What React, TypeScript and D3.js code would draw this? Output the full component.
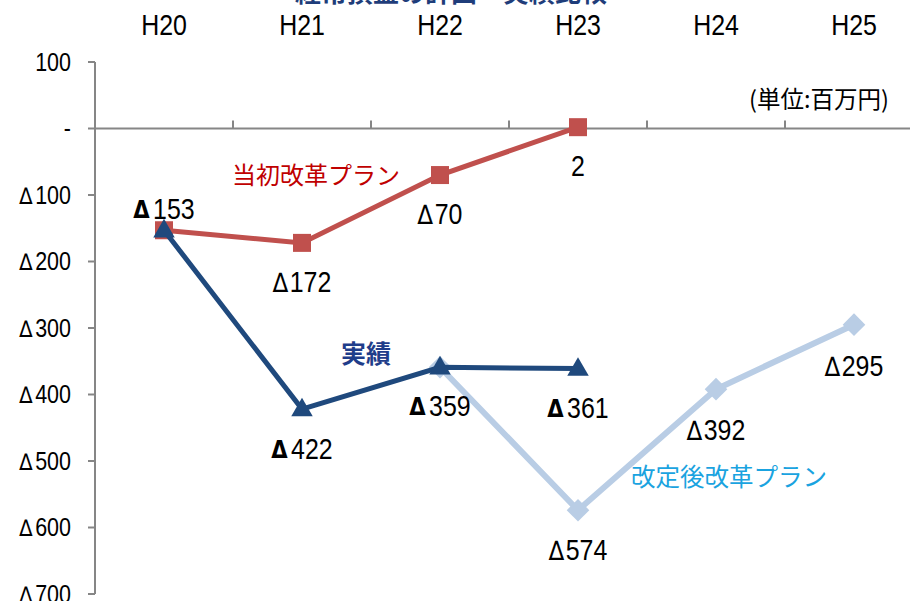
import React from "react";
import * as d3 from "d3";

const years = ["H20", "H21", "H22", "H23", "H24", "H25"];
const initialPlan = [-153, -172, -70, 2, null, null];
const actual = [-153, -422, -359, -361, null, null];
const revisedPlan = [null, null, -359, -574, -392, -295];
const yTicks = [100, 0, -100, -200, -300, -400, -500, -600, -700];

const W = 910;
const H = 601;
const FONT = '"Liberation Sans", Arial, sans-serif';
const DELTA_FONT = '"DejaVu Sans", sans-serif';
const CJK = '"Noto Sans CJK JP", "Noto Sans", sans-serif';
const SX = 0.86; // condensed look for Latin text

type TxtProps = {
  x: number;
  y: number;
  size: number;
  anchor?: "start" | "middle" | "end";
  children: React.ReactNode;
};

// Horizontally condensed text, positioned at (x, y) with a central baseline
function Txt({ x, y, size, anchor = "middle", children }: TxtProps) {
  return (
    <text
      transform={`translate(${x},${y}) scale(${SX},1)`}
      textAnchor={anchor}
      dominantBaseline="central"
      fontSize={size}
      fontFamily={FONT}
      fill="#000"
    >
      {children}
    </text>
  );
}

const deltaNumber = (v: number, bold: boolean, size: number, gap: number) =>
  v < 0 ? (
    <>
      <tspan fontFamily={DELTA_FONT} fontWeight={bold ? "bold" : "normal"} fontSize={bold ? size * 0.85 : size * 0.92}>
        {bold ? "Δ" : "∆"}
      </tspan>
      <tspan dx={gap}>{Math.abs(v)}</tspan>
    </>
  ) : v === 0 ? (
    "-"
  ) : (
    `${v}`
  );

export default function App() {
  const x = d3.scaleBand<string>().domain(years).range([95, 95 + 138 * 6]).padding(0);
  const y = d3.scaleLinear().domain([-700, 100]).range([594, 62]);
  const cx = (i: number) => (x(years[i]) as number) + x.bandwidth() / 2;

  const pts = (arr: (number | null)[]) =>
    arr
      .map((v, i) => (v === null ? null : ([cx(i), y(v)] as [number, number])))
      .filter(Boolean) as [number, number][];

  const line = d3.line<[number, number]>();

  const redPts = pts(initialPlan);
  const navyPts = pts(actual);
  const lightPts = pts(revisedPlan);

  const red = "#C0504D";
  const navy = "#1F497D";
  const light = "#B9CDE5";

  const label = (v: number, i: number, dy: number, boldDelta: boolean, key: string) => (
    <Txt key={key} x={cx(i)} y={y(v) + dy} size={29}>
      {deltaNumber(v, boldDelta, 29, boldDelta ? 4 : 2)}
    </Txt>
  );

  return (
    <svg width={W} height={H} style={{ position: "absolute", left: 0, top: 0, background: "#fff" }}>
      {/* title, running off the top edge */}
      <text x={451} y={2} textAnchor="middle" fontSize={26} fontWeight="bold" fontFamily={CJK} fill="#1F3D7A">
        経常損益の計画・実績比較
      </text>

      {/* category labels */}
      {years.map((yr, i) => (
        <Txt key={yr} x={cx(i)} y={25} size={29}>
          {yr}
        </Txt>
      ))}

      {/* y axis */}
      <line x1={95} x2={95} y1={y(100)} y2={y(-700)} stroke="#868686" strokeWidth={2} />
      {yTicks.map((t) => (
        <g key={t}>
          <line x1={88} x2={95} y1={y(t)} y2={y(t)} stroke="#868686" strokeWidth={2} />
          <Txt x={71} y={y(t)} size={25} anchor="end">
            {deltaNumber(t, false, 25, 3)}
          </Txt>
        </g>
      ))}

      {/* zero line with category ticks */}
      <line x1={95} x2={W} y1={y(0)} y2={y(0)} stroke="#868686" strokeWidth={2} />
      {years.slice(1).map((yr) => (
        <line key={yr} x1={x(yr) as number} x2={x(yr) as number} y1={y(0) - 8} y2={y(0)} stroke="#868686" strokeWidth={2} />
      ))}

      <text x={819} y={98} textAnchor="middle" dominantBaseline="central" fontSize={23.5} fontFamily={CJK} fill="#000">
        (単位:百万円)
      </text>

      {/* revised plan */}
      <path d={line(lightPts) as string} fill="none" stroke={light} strokeWidth={6} />
      {lightPts.map(([px, py], i) => (
        <rect key={i} x={px - 8} y={py - 8} width={16} height={16} fill={light} transform={`rotate(45 ${px} ${py})`} />
      ))}

      {/* initial plan */}
      <path d={line(redPts) as string} fill="none" stroke={red} strokeWidth={5} />
      {redPts.map(([px, py], i) => (
        <rect key={i} x={px - 9} y={py - 9} width={18} height={18} fill={red} />
      ))}

      {/* actual */}
      <path d={line(navyPts) as string} fill="none" stroke={navy} strokeWidth={5} />
      {navyPts.map(([px, py], i) => (
        <path key={i} d={d3.symbol(d3.symbolTriangle, 200)() as string} transform={`translate(${px},${py + 1})`} fill={navy} />
      ))}

      {/* value labels */}
      {label(-153, 0, -21, true, "a0")}
      {label(-422, 1, 40, true, "a1")}
      {label(-359, 2, 39, true, "a2")}
      {label(-361, 3, 40, true, "a3")}
      {label(-172, 1, 39, false, "p1")}
      {label(-70, 2, 39, false, "p2")}
      {label(2, 3, 39, false, "p3")}
      {label(-574, 3, 40, false, "r3")}
      {label(-392, 4, 41, false, "r4")}
      {label(-295, 5, 42, false, "r5")}

      {/* series names */}
      <text x={316} y={173} textAnchor="middle" dominantBaseline="central" fontSize={24} fontFamily={CJK} fill="#C00000">
        当初改革プラン
      </text>
      <text x={366} y={352} textAnchor="middle" dominantBaseline="central" fontSize={25} fontWeight="bold" fontFamily={CJK} fill="#1F3D8A">
        実績
      </text>
      <text x={729} y={475} textAnchor="middle" dominantBaseline="central" fontSize={24.5} fontFamily={CJK} fill="#1AA3E0">
        改定後改革プラン
      </text>
    </svg>
  );
}
